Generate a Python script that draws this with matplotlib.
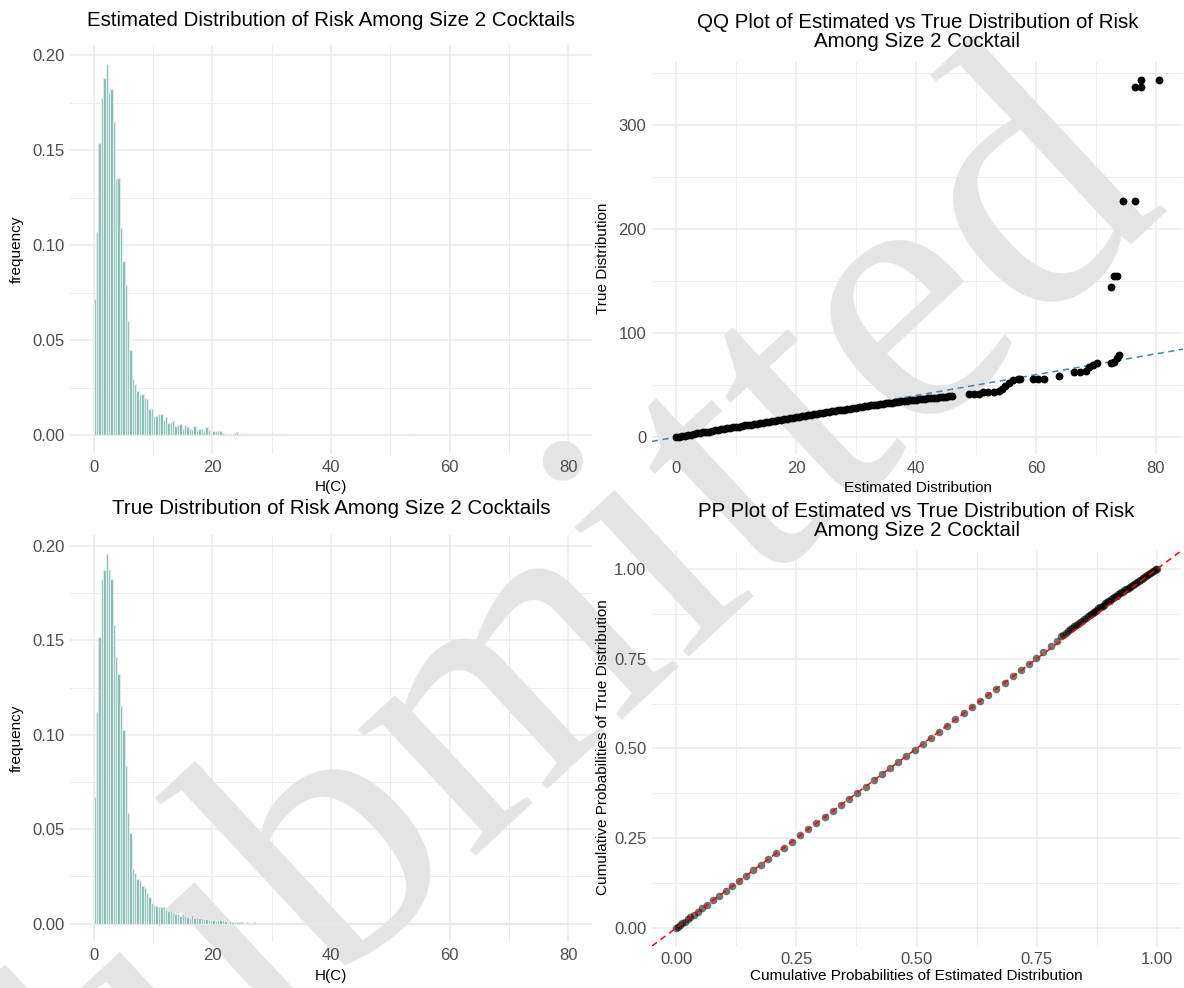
import numpy as np
import matplotlib
matplotlib.use("Agg")
import matplotlib.pyplot as plt
from matplotlib.ticker import MultipleLocator, FormatStrFormatter

plt.rcParams['font.family'] = ['Liberation Sans', 'DejaVu Sans']

W, H, DPI = 1184, 988, 100

# ---------------- data ----------------
bin_width = 0.4
est_freq = [0.0718, 0.107, 0.1538, 0.1774, 0.188, 0.1955, 0.180, 0.182, 0.165, 0.1348,
            0.1355, 0.1088, 0.0915, 0.079, 0.060, 0.0447, 0.0296, 0.0271, 0.0236, 0.0214,
            0.0216, 0.0199, 0.0193, 0.0137, 0.0137, 0.0098, 0.0104, 0.0112, 0.011, 0.008,
            0.0098, 0.0067, 0.007, 0.0076, 0.005, 0.0055, 0.0058, 0.0033, 0.0056, 0.0046,
            0.0033, 0.0028, 0.0048, 0.0023, 0.0033, 0.0035, 0.0022, 0.0042, 0.0026, 0.0009,
            0.0022, 0.0022, 0.0022, 0.0022, 0.0012, 0.0009, 0.001, 0.0006, 0.0009, 0.0012,
            0.0019, 0.0008, 0.0006, 0.0009, 0.0005, 0.0007, 0.0004, 0.0006, 0.0008, 0.0003,
            0.0005, 0.0004, 0.0003, 0.0005, 0.0003, 0.0002, 0.0004, 0.0003, 0.0002, 0.0006,
            0.0003, 0.0002, 0.0003, 0.0002, 0.0001, 0.0003, 0.0002, 0.0001, 0.0002, 0.0004,
            0.0001, 0.0002, 0.0001, 0.0001, 0.0002, 0.0001, 0.0002, 0.0001, 0.0001, 0.0001,
            0.0002, 0.0001, 0.0001, 0.0001, 0.0002, 0.0001, 0.0001, 0.0001, 0.0001, 0.0001,
            0.0001, 0.0001, 0.0002, 0.0001, 0.0001, 0.0001, 0.0001, 0.0001, 0.0001, 0.0001,
            0.0001, 0.0001, 0.0001, 0.0001, 0.0001, 0.0001, 0.0001, 0.0001, 0.0001, 0.0001,
            0.0001, 0.0001, 0.0004, 0.0006, 0.0003, 0.0001, 0.0001, 0.0002, 0.0001, 0.0001,
            0.0001, 0.0001, 0.0001, 0.0001, 0.0001, 0.0001, 0.0001, 0.0001, 0.0001, 0.0001,
            0.0001, 0.0001, 0.0001, 0.0001, 0.0001, 0.0001, 0.0001, 0.0001, 0.0001, 0.0001,
            0.0001, 0.0001, 0.0001, 0.0001, 0.0001, 0.0001, 0.0001, 0.0001, 0.0001, 0.0001,
            0.0001, 0.0001, 0.0001, 0.0001, 0.0001, 0.0001, 0.0001, 0.0002, 0.0001, 0.0001,
            0.0001, 0.0001, 0.0001, 0.0001, 0.0001, 0.0001, 0.0001, 0.0001, 0.0001, 0.0001,
            0.0001, 0.0001, 0.0001, 0.0001, 0.0001, 0.0001, 0.0001, 0.0001, 0.0001, 0.0001]

true_freq = [0.0668, 0.112, 0.1516, 0.1826, 0.1872, 0.196, 0.1872, 0.1823, 0.158, 0.1413,
             0.132, 0.1152, 0.1024, 0.0835, 0.0583, 0.048, 0.0289, 0.0268, 0.0236, 0.0226,
             0.0198, 0.019, 0.0162, 0.0138, 0.0109, 0.0099, 0.0092, 0.0088, 0.0088, 0.0088,
             0.0074, 0.0067, 0.007, 0.006, 0.005, 0.0048, 0.0039, 0.0048, 0.0039, 0.0035,
             0.003, 0.0046, 0.003, 0.0035, 0.0028, 0.0028, 0.0025, 0.0022, 0.0018, 0.0018,
             0.0018, 0.0015, 0.0018, 0.0018, 0.002, 0.0012, 0.0010, 0.0012, 0.0008, 0.0009,
             0.0007, 0.0008, 0.0006, 0.0005, 0.0006, 0.0004, 0.0005, 0.0006, 0.0003, 0.0004,
             0.0003, 0.0003, 0.0004, 0.0002, 0.0003, 0.0002, 0.0003, 0.0002, 0.0002, 0.0002,
             0.0002, 0.0001, 0.0002, 0.0001, 0.0002, 0.0001, 0.0001, 0.0002, 0.0001, 0.0001,
             0.0001, 0.0002, 0.0001, 0.0001, 0.0001, 0.0001, 0.0001, 0.0001, 0.0001, 0.0001,
             0.0001, 0.0001, 0.0001, 0.0001, 0.0001, 0.0001, 0.0001, 0.0001, 0.0001, 0.0001,
             0.0001, 0.0001, 0.0001, 0.0001, 0.0001, 0.0001, 0.0001, 0.0001, 0.0001, 0.0001,
             0.0001, 0.0001, 0.0001, 0.0001, 0.0001, 0.0001, 0.0001, 0.0001, 0.0001, 0.0001,
             0.0001, 0.0001, 0.0001, 0.0001, 0.0001, 0.0001, 0.0001, 0.0001, 0.0001, 0.0001,
             0.0001, 0.0001, 0.0001, 0.0001, 0.0001, 0.0001, 0.0001, 0.0001, 0.0001, 0.0001,
             0.0001, 0.0001, 0.0001, 0.0001, 0.0001, 0.0001, 0.0001, 0.0001, 0.0001, 0.0001,
             0.0001, 0.0001, 0.0001, 0.0001, 0.0001, 0.0001, 0.0001, 0.0001, 0.0001, 0.0001,
             0.0001, 0.0001, 0.0001, 0.0001, 0.0001, 0.0001, 0.0001, 0.0001, 0.0001, 0.0001,
             0.0001, 0.0001, 0.0001, 0.0001, 0.0001, 0.0001, 0.0001, 0.0001, 0.0001, 0.0001,
             0.0001, 0.0001, 0.0001, 0.0001, 0.0001, 0.0001, 0.0001, 0.0001, 0.0001, 0.0001]

qq_est = [0.0, 0.5, 1.0, 1.5, 2.0, 2.5, 3.0, 3.5, 4.0, 4.5,
          5.0, 5.5, 6.0, 6.5, 7.0, 7.5, 8.0, 8.5, 9.0, 9.5,
          10.0, 10.5, 11.0, 11.5, 12.0, 12.5, 13.0, 13.5, 14.0, 14.5,
          15.0, 15.5, 16.0, 16.5, 17.0, 17.5, 18.0, 18.5, 19.0, 19.5,
          20.0, 20.5, 21.0, 21.5, 22.0, 22.5, 23.0, 23.5, 24.0, 24.5,
          25.0, 25.5, 26.0, 26.5, 27.0, 27.5, 28.0, 28.5, 29.0, 29.5,
          30.0, 30.5, 31.0, 31.5, 32.0, 32.5, 33.0, 33.5, 34.0, 34.5,
          35.0, 35.5, 36.0, 36.5, 37.0, 37.5, 38.0, 38.5, 39.0, 39.5,
          40.0, 40.5, 41.0, 41.5, 42.0, 42.5, 43.0, 43.5, 44.0, 44.5,
          45.0, 45.5, 46.0,
          48.9, 49.7, 50.5, 51.1, 52.0, 53.0, 53.9, 54.4, 54.9, 55.5,
          56.2, 57.0, 57.4, 59.5, 60.4, 61.4, 63.9, 66.4, 67.3, 68.3, 68.8, 69.5, 70.2, 72.6,
          73.0, 73.5, 73.8, 72.6, 73.0, 73.5, 74.5, 76.5, 76.6, 77.5, 77.5, 80.5]
qq_true = [0.0, 0.5, 1.0, 1.5, 2.0, 2.5, 3.0, 3.5, 4.0, 4.5,
           5.0, 5.4, 5.9, 6.4, 6.9, 7.4, 7.8, 8.3, 8.8, 9.3,
           9.8, 10.2, 10.7, 11.2, 11.6, 12.1, 12.6, 13.0, 13.5, 14.0,
           14.5, 14.9, 15.4, 15.8, 16.3, 16.8, 17.3, 17.7, 18.2, 18.7,
           19.2, 19.6, 20.1, 20.6, 21.0, 21.5, 22.0, 22.4, 22.9, 23.3,
           23.8, 24.2, 24.7, 25.2, 25.6, 26.1, 26.5, 27.0, 27.4, 27.9,
           28.4, 28.8, 29.2, 29.6, 30.0, 30.4, 30.8, 31.2, 31.6, 32.0,
           32.4, 32.8, 33.2, 33.6, 34.0, 34.4, 34.8, 35.1, 35.4, 35.7,
           36.0, 36.3, 36.6, 36.9, 37.2, 37.5, 37.8, 38.0, 38.3, 38.6,
           38.9, 39.2, 39.6,
           41.3, 41.6, 41.8, 43.0, 43.2, 43.6, 44.0, 46.0, 49.0, 52.0,
           54.5, 56.0, 56.2, 55.7, 56.0, 56.2, 58.7, 62.8, 62.8, 63.5, 67.0, 69.0, 71.0, 71.0,
           72.5, 76.0, 79.0, 144.0, 155.0, 155.0, 227.0, 227.0, 336.8, 336.8, 343.3, 343.3]

pp_est_low = [0.000, 0.004, 0.008, 0.013, 0.018, 0.024, 0.030, 0.037, 0.045, 0.055, 0.065,
              0.077, 0.090, 0.103, 0.117, 0.131, 0.146, 0.161, 0.176, 0.192, 0.208, 0.224,
              0.241, 0.258, 0.275, 0.292, 0.309, 0.326, 0.343, 0.360, 0.377, 0.394, 0.411,
              0.428, 0.445, 0.462, 0.479, 0.496, 0.513, 0.530, 0.547, 0.564, 0.581, 0.598,
              0.615, 0.632, 0.649, 0.666, 0.683, 0.700, 0.717, 0.733, 0.749, 0.764, 0.779,
              0.792]
pp_true_low = [0.000, 0.004, 0.008, 0.013, 0.018, 0.024, 0.030, 0.037, 0.045, 0.055, 0.065,
               0.077, 0.090, 0.103, 0.117, 0.131, 0.146, 0.161, 0.176, 0.192, 0.208, 0.224,
               0.241, 0.258, 0.275, 0.292, 0.309, 0.326, 0.343, 0.360, 0.377, 0.394, 0.411,
               0.428, 0.445, 0.462, 0.479, 0.496, 0.513, 0.530, 0.547, 0.564, 0.581, 0.598,
               0.615, 0.632, 0.649, 0.666, 0.683, 0.701, 0.719, 0.736, 0.753, 0.769, 0.785,
               0.800]
pp_est_high = [0.800, 0.805, 0.810, 0.815, 0.820, 0.824, 0.828, 0.832, 0.836, 0.840,
               0.844, 0.848, 0.852, 0.856, 0.860, 0.863, 0.866, 0.869, 0.872, 0.875,
               0.878, 0.881, 0.884, 0.887, 0.890, 0.893, 0.896, 0.899, 0.902, 0.905,
               0.908, 0.911, 0.914, 0.917, 0.920, 0.923, 0.926, 0.929, 0.932, 0.935,
               0.938, 0.941, 0.944, 0.947, 0.950, 0.953, 0.956, 0.959, 0.962, 0.965,
               0.968, 0.971, 0.974, 0.977, 0.980, 0.983, 0.986, 0.989, 0.992, 0.995,
               0.998, 1.000]
pp_true_high = [0.812, 0.817, 0.822, 0.827, 0.832, 0.836, 0.840, 0.844, 0.848, 0.852,
                0.856, 0.860, 0.864, 0.868, 0.872, 0.875, 0.878, 0.881, 0.884, 0.887,
                0.890, 0.893, 0.895, 0.898, 0.901, 0.904, 0.907, 0.910, 0.912, 0.915,
                0.918, 0.921, 0.924, 0.926, 0.929, 0.932, 0.935, 0.937, 0.940, 0.943,
                0.945, 0.948, 0.951, 0.953, 0.956, 0.959, 0.961, 0.964, 0.967, 0.969,
                0.972, 0.975, 0.977, 0.980, 0.983, 0.986, 0.989, 0.991, 0.994, 0.997,
                0.999, 1.000]
pp_est = pp_est_low + pp_est_high
pp_true = pp_true_low + pp_true_high

titles = ["Estimated Distribution of Risk Among Size 2 Cocktails",
          "QQ Plot of Estimated vs True Distribution of Risk\nAmong Size 2 Cocktail",
          "True Distribution of Risk Among Size 2 Cocktails",
          "PP Plot of Estimated vs True Distribution of Risk\nAmong Size 2 Cocktail"]
watermark = "Submitted"

# ---------------- styling helpers ----------------
GRID = '#EBEBEB'
TICK_COL = '#4D4D4D'
TITLE_FS = 14.8
LAB_FS = 11

fig = plt.figure(figsize=(W / DPI, H / DPI), dpi=DPI)


def px_rect(l, t, r, b):
    return [l / W, 1 - b / H, (r - l) / W, (b - t) / H]


def setup(ax, xlim, ylim, xmaj, xmin, ymaj, ymin):
    ax.set_facecolor('none')
    for s in ax.spines.values():
        s.set_visible(False)
    ax.set_xlim(*xlim)
    ax.set_ylim(*ylim)
    ax.xaxis.set_major_locator(MultipleLocator(xmaj))
    ax.xaxis.set_minor_locator(MultipleLocator(xmin))
    ax.yaxis.set_major_locator(MultipleLocator(ymaj))
    ax.yaxis.set_minor_locator(MultipleLocator(ymin))
    ax.tick_params(which='both', length=0, labelsize=12, colors=TICK_COL, pad=4)


def make_panel(rect, xlim, ylim, xmaj, xmin, ymaj, ymin):
    # grid layer (below watermark)
    base = fig.add_axes(px_rect(*rect), zorder=0)
    setup(base, xlim, ylim, xmaj, xmin, ymaj, ymin)
    base.grid(True, which='major', color=GRID, lw=1.1)
    base.grid(True, which='minor', color=GRID, lw=0.6)
    base.tick_params(labelleft=False, labelbottom=False)
    # data + tick labels layer (above watermark)
    ov = fig.add_axes(px_rect(*rect), zorder=2)
    setup(ov, xlim, ylim, xmaj, xmin, ymaj, ymin)
    ov.grid(False)
    return ov


def hist_panel(rect, freq, title, title_y, xlab_y):
    n = len(freq)
    edges = np.arange(n + 1) * bin_width
    lo, hi = edges[0], edges[-1]
    xr = (hi - lo) * 0.05
    ymax = max(freq)
    xlim = (lo - xr, hi + xr)
    ylim = (-0.05 * ymax, 1.05 * ymax)
    ov = make_panel(rect, xlim, ylim, 20, 10, 0.05, 0.025)
    ov.yaxis.set_major_formatter(FormatStrFormatter('%.2f'))
    ov.bar(edges[:-1], freq, width=bin_width, align='edge', color='#69b3a2',
           edgecolor='#e9ecef', linewidth=0.9, alpha=0.9)
    cx = (rect[0] + rect[2]) / 2
    fig.text(cx / W, 1 - title_y / H, title, ha='center', va='center', fontsize=TITLE_FS)
    fig.text(cx / W, 1 - xlab_y / H, 'H(C)', ha='center', va='center', fontsize=LAB_FS)
    fig.text(17 / W, 1 - (rect[1] + rect[3]) / 2 / H, 'frequency', ha='center',
             va='center', rotation=90, fontsize=LAB_FS)


# top-left
hist_panel((70, 45, 592, 454), est_freq, titles[0], 20, 487)
# bottom-left
hist_panel((70, 535, 592, 942), true_freq, titles[2], 508, 976)

# top-right QQ
qx_lo, qx_hi = min(qq_est), max(qq_est)
qy_lo, qy_hi = min(qq_true), max(qq_true)
qq_xlim = (qx_lo - 0.05 * (qx_hi - qx_lo), qx_hi + 0.05 * (qx_hi - qx_lo))
qq_ylim = (qy_lo - 0.05 * (qy_hi - qy_lo), qy_hi + 0.05 * (qy_hi - qy_lo))
qq_rect = (652, 62, 1183, 455)
ov = make_panel(qq_rect, qq_xlim, qq_ylim, 20, 10, 100, 50)
ov.axline((0, 0), slope=1, color='#4682B4', ls=(0, (4, 3)), lw=1.1, zorder=2)
ov.scatter(qq_est, qq_true, s=32, color='black', linewidths=0, zorder=3)
cx = (qq_rect[0] + qq_rect[2]) / 2
fig.text(cx / W, 1 - 32 / H, titles[1], ha='center', va='center', fontsize=TITLE_FS,
         linespacing=1.05)
fig.text(cx / W, 1 - 488 / H, 'Estimated Distribution', ha='center', va='center',
         fontsize=LAB_FS)
fig.text(603 / W, 1 - 258 / H, 'True Distribution', ha='center', va='center',
         rotation=90, fontsize=LAB_FS)

# bottom-right PP
pp_xlim = (-0.05, 1.05)
pp_ylim = (-0.05, 1.05)
pp_rect = (652, 551, 1181, 946)
ov = make_panel(pp_rect, pp_xlim, pp_ylim, 0.25, 0.125, 0.25, 0.125)
ov.xaxis.set_major_formatter(FormatStrFormatter('%.2f'))
ov.yaxis.set_major_formatter(FormatStrFormatter('%.2f'))
ov.scatter(pp_est, pp_true, s=30, color='black', alpha=0.55, linewidths=0, zorder=3)
ov.axline((0, 0), slope=1, color='red', ls=(0, (4, 3)), lw=1.1, zorder=4)
cx = (pp_rect[0] + pp_rect[2]) / 2
fig.text(cx / W, 1 - 521 / H, titles[3], ha='center', va='center', fontsize=TITLE_FS,
         linespacing=1.05)
fig.text(cx / W, 1 - 976 / H, 'Cumulative Probabilities of Estimated Distribution',
         ha='center', va='center', fontsize=LAB_FS)
fig.text(603 / W, 1 - 747 / H, 'Cumulative Probabilities of True Distribution',
         ha='center', va='center', rotation=90, fontsize=LAB_FS)

# watermark between grid (zorder 0) and data (zorder 2)
fig.text(540 / W, 1 - 650 / H, watermark, ha='center', va='center', rotation=43,
         fontsize=270, family='Liberation Serif', color='#E4E4E4', zorder=1)

fig.savefig('out.png', dpi=DPI)
